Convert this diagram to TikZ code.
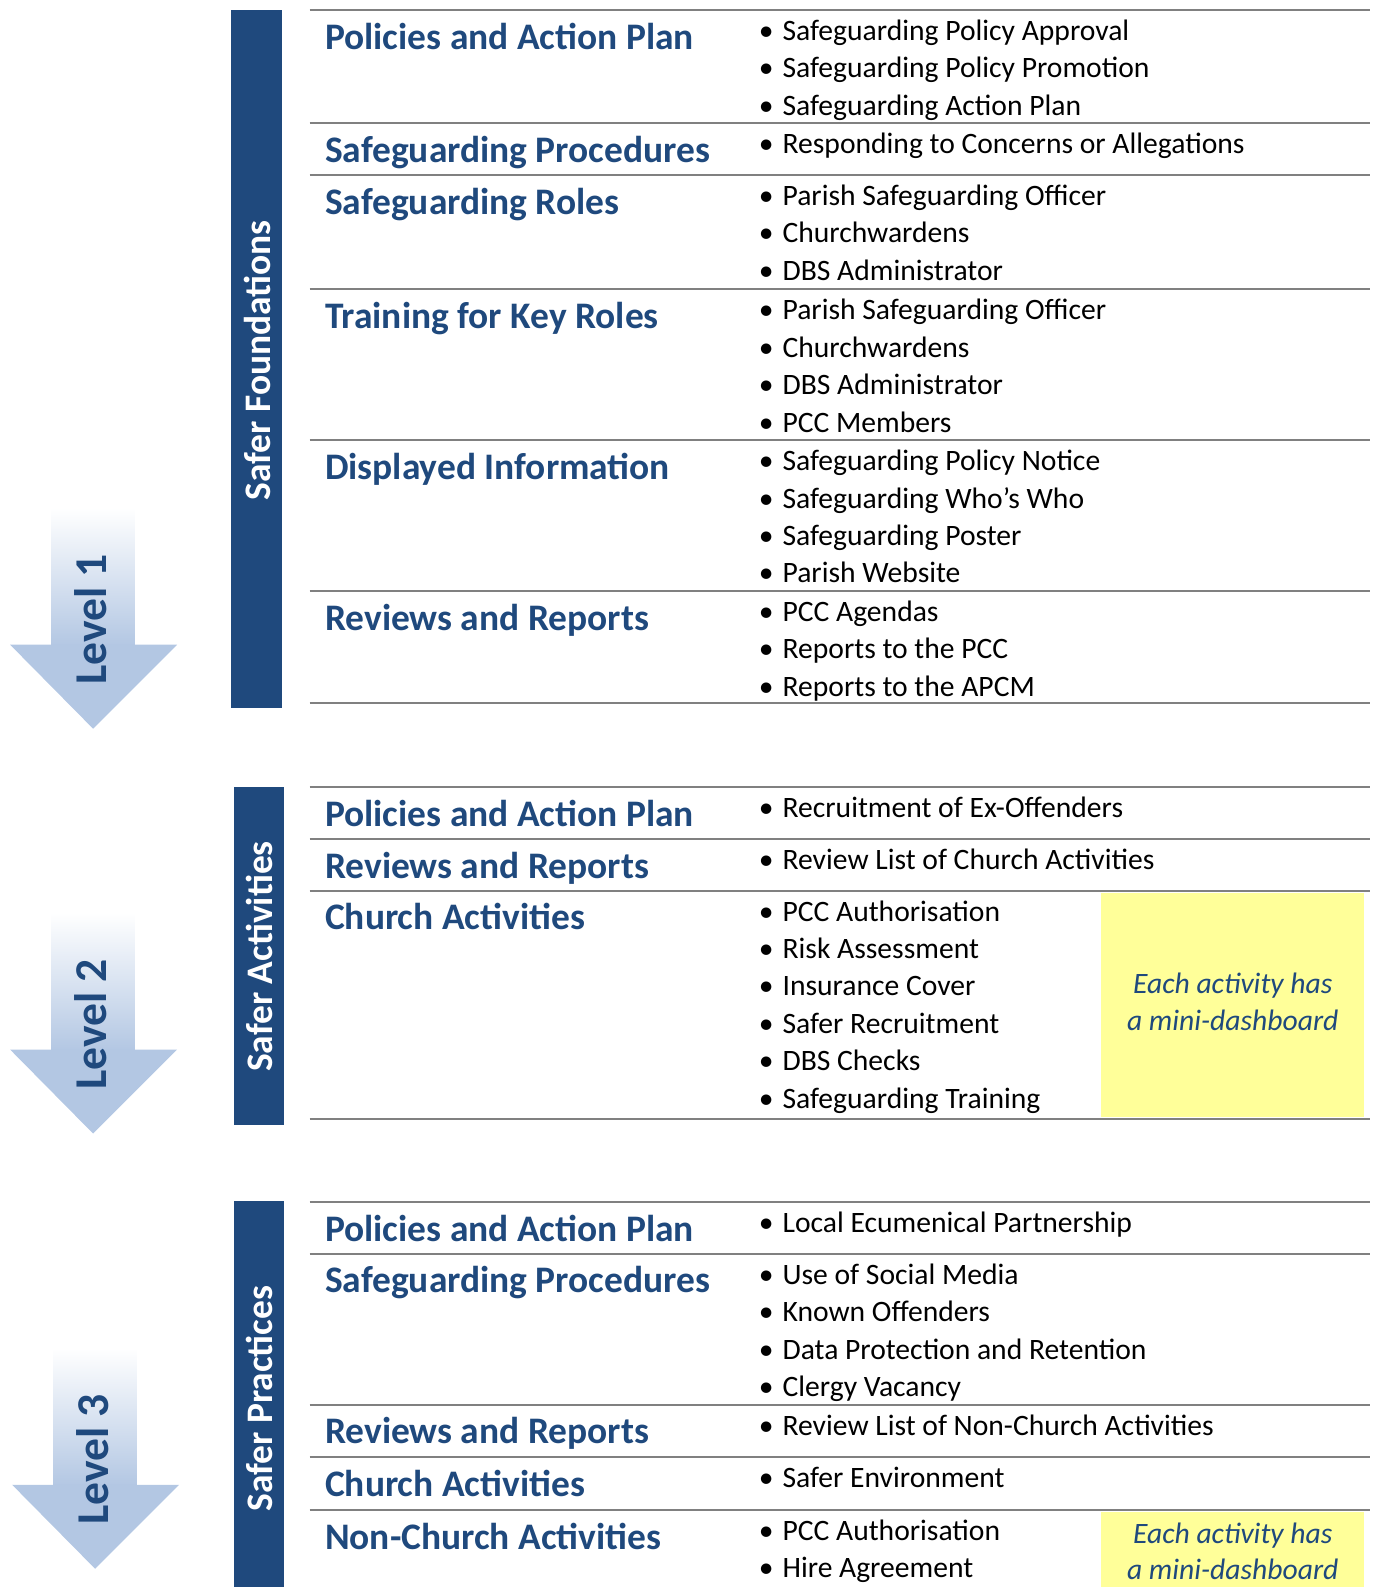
\documentclass[tikz,border=0pt]{standalone}
\usepackage{fontspec}
\setmainfont{Carlito}
\usepackage{xcolor}
\usetikzlibrary{calc}
\definecolor{navy}{HTML}{1F497D}
\definecolor{rulegray}{HTML}{808080}
\definecolor{lvlblue}{HTML}{B3C7E3}
\definecolor{note}{HTML}{FFFF99}
\tikzset{
  bar/.style={fill=navy},
  barlab/.style={text=white, font=\fontsize{37}{40}\selectfont\bfseries, rotate=90, inner sep=0pt},
  rule/.style={draw=rulegray, line width=2pt},
  head/.style={anchor=base west, text=navy, font=\fontsize{37}{40}\selectfont\bfseries, inner sep=0pt},
  item/.style={anchor=base west, text=black, font=\fontsize{29.25}{35}\selectfont, inner sep=0pt},
  dot/.style={anchor=base, text=black, font=\fontsize{29.25}{35}\selectfont, inner sep=0pt},
  memo/.style={fill=note},
  memotxt/.style={text=navy, font=\fontsize{29.25}{36}\selectfont\itshape, align=center, inner sep=0pt},
  lvl/.style={text=navy, font=\fontsize{45}{50}\selectfont\bfseries, rotate=90, inner sep=0pt},
}

\begin{document}
\begin{tikzpicture}[x=1pt,y=-1pt]
  \useasboundingbox (0,0) rectangle (1360,1568);
  \foreach \n/\cx/\tip in {1/92/720,2/92/1120,3/94/1550}{
    \shade[top color=white, bottom color=lvlblue] ({\cx-41},{\tip-218}) rectangle ({\cx+41},{\tip-82});
    \fill[lvlblue] ({\cx-82},{\tip-83}) -- ({\cx+83},{\tip-83}) -- (\cx,\tip) -- cycle;
    \node[lvl] (level\n) at ({\cx-2},{\tip-108}) {Level \n};
  }
  \fill[bar] (228,10) rectangle (279,700);
  \fill[bar] (231,778) rectangle (281,1112);
  \fill[bar] (231,1187) rectangle (281,1568);
  \node[barlab] (foundations) at (254,356) {Safer Foundations};
  \node[barlab] (activities) at (256,945) {Safer Activities};
  \node[barlab] (practices) at (256,1382) {Safer Practices};
  \foreach \y in {10,122,173,286,435,584,695,778,829,880,1106,1188,1239,1388,1440,1492}
    \draw[rule] (306,\y) -- (1354,\y);
  \fill[memo] (1088,882) rectangle (1348,1104);
  \fill[memo] (1088,1494) rectangle (1348,1568);
  \foreach \t/\h/\items in {
    10/{Policies and Action Plan}/{Safeguarding Policy Approval,Safeguarding Policy Promotion,Safeguarding Action Plan},
    122/{Safeguarding Procedures}/{Responding to Concerns or Allegations},
    173/{Safeguarding Roles}/{Parish Safeguarding Officer,Churchwardens,DBS Administrator},
    286/{Training for Key Roles}/{Parish Safeguarding Officer,Churchwardens,DBS Administrator,PCC Members},
    435/{Displayed Information}/{Safeguarding Policy Notice,Safeguarding Who’s Who,Safeguarding Poster,Parish Website},
    584/{Reviews and Reports}/{PCC Agendas,Reports to the PCC,Reports to the APCM},
    778/{Policies and Action Plan}/{Recruitment of Ex-Offenders},
    829/{Reviews and Reports}/{Review List of Church Activities},
    880/{Church Activities}/{PCC Authorisation,Risk Assessment,Insurance Cover,Safer Recruitment,DBS Checks,Safeguarding Training},
    1188/{Policies and Action Plan}/{Local Ecumenical Partnership},
    1239/{Safeguarding Procedures}/{Use of Social Media,Known Offenders,Data Protection and Retention,Clergy Vacancy},
    1388/{Reviews and Reports}/{Review List of Non-Church Activities},
    1440/{Church Activities}/{Safer Environment},
    1492/{Non-Church Activities}/{PCC Authorisation,Hire Agreement}}{
    \node[head] (h\t) at (321,{\t+38.5}) {\h};
    \foreach \s [count=\i] in \items {
      \node[dot] (d\t-\i) at (757,{\t+37*\i-7}) {\textbullet};
      \node[item] (i\t-\i) at (773,{\t+37*\i-7}) {\s};
    }
  }
  \node[memotxt] (memo1) at (1218,990) {Each activity has\\a mini-dashboard};
  \node[memotxt] (memo2) at (1218,1533) {Each activity has\\a mini-dashboard};
\end{tikzpicture}
\end{document}
